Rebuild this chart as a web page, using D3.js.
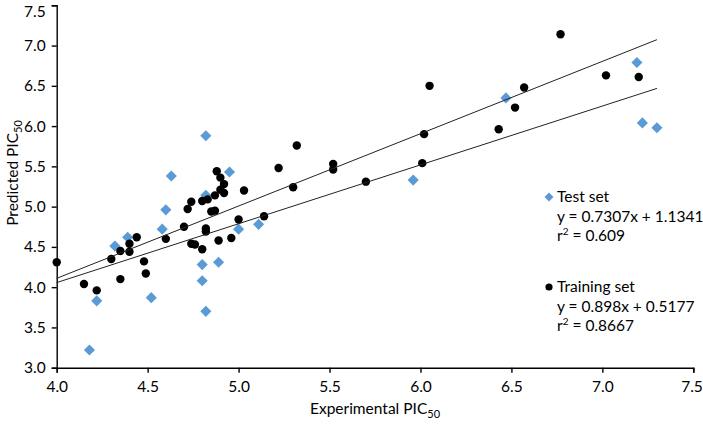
<!DOCTYPE html>
<html><head><meta charset="utf-8">
<script src="https://cdn.jsdelivr.net/npm/d3@7"></script>
<style>body{margin:0;background:#fff}svg{display:block;font-family:Lato,"Open Sans",sans-serif}</style>
</head><body><svg id="c" width="703" height="424"></svg>
<script>
const testX = [4.18,4.22,4.32,4.39,4.52,4.58,4.60,4.63,4.82,4.82,4.95,4.80,4.80,4.82,4.89,5.00,5.11,5.96,6.47,7.19,7.22,7.30];
const testY = [3.22,3.83,4.51,4.62,3.87,4.72,4.96,5.38,5.88,5.14,5.43,4.28,4.08,3.70,4.31,4.72,4.78,5.33,6.35,6.79,6.04,5.98];
const trainX = [4.00,4.15,4.22,4.30,4.35,4.35,4.40,4.40,4.44,4.48,4.49,4.60,4.70,4.72,4.74,4.74,4.76,4.80,4.80,4.82,4.82,4.83,4.85,4.87,4.87,4.88,4.90,4.92,4.92,4.90,4.89,4.96,5.00,5.03,5.14,5.22,5.30,5.32,5.52,5.52,5.70,6.01,6.02,6.05,6.43,6.52,6.57,6.77,7.02,7.20];
const trainY = [4.31,4.04,3.96,4.35,4.10,4.45,4.54,4.44,4.62,4.32,4.17,4.60,4.75,4.97,5.06,4.54,4.53,4.47,5.07,4.73,4.69,5.09,4.94,4.95,5.14,5.44,5.36,5.28,5.17,5.21,4.58,4.61,4.84,5.20,4.88,5.48,5.24,5.76,5.53,5.46,5.31,5.54,5.90,6.50,5.96,6.23,6.48,7.14,6.63,6.61];
const xTicks = [4.0,4.5,5.0,5.5,6.0,6.5,7.0,7.5];
const yTicks = [3.0,3.5,4.0,4.5,5.0,5.5,6.0,6.5,7.0,7.5];
const fits = [
  {name:"Test set", slope:0.7307, intercept:1.1341, eq:"y = 0.7307x + 1.1341", r2:"0.609"},
  {name:"Training set", slope:0.898, intercept:0.5177, eq:"y = 0.898x + 0.5177", r2:"0.8667"}
];
const fitRange = [4.0, 7.3];

const svg = d3.select("#c");
const x = d3.scaleLinear().domain([4,7.5]).range([56.7,693.3]);
const y = d3.scaleLinear().domain([3,7.5]).range([367.7,5.3]);
const blue = "#5B9BD5";
const FS = 15.5;

// axes
const xa = svg.append("g").attr("transform","translate(0,367.7)")
  .call(d3.axisBottom(x).tickValues(xTicks).tickFormat(d3.format(".1f")).tickSizeOuter(0).tickSize(5).tickPadding(6));
const ya = svg.append("g").attr("transform","translate(56.7,0)")
  .call(d3.axisLeft(y).tickValues(yTicks).tickFormat(d3.format(".1f")).tickSizeOuter(0).tickSize(5).tickPadding(6));
[xa,ya].forEach(a=>{
  a.selectAll("path,line").attr("stroke","#000").attr("stroke-width",1.4);
  a.selectAll("text").attr("font-size",FS).attr("fill","#000").attr("font-family","Lato");
});
xa.selectAll("text").attr("dy","0.85em");
// keep edge labels inside the frame
xa.selectAll(".tick").filter(d=>d===7.5).select("text").attr("text-anchor","end").attr("x",9);
ya.selectAll(".tick").filter(d=>d===7.5).select("text").attr("dy","0.8em").attr("y",-1);

// test diamonds (square rotated 45°)
const diamond = d3.symbol().type(d3.symbolSquare).size(62);
svg.append("g").selectAll("path").data(testX.map((v,i)=>[v,testY[i]])).join("path")
  .attr("d",diamond).attr("fill",blue)
  .attr("transform",d=>`translate(${x(d[0])},${y(d[1])}) rotate(45)`);
// training dots
svg.append("g").selectAll("circle").data(trainX.map((v,i)=>[v,trainY[i]])).join("circle")
  .attr("cx",d=>x(d[0])).attr("cy",d=>y(d[1])).attr("r",4.2).attr("fill","#000");

// trend lines
fits.forEach(f=>{
  svg.append("line")
    .attr("x1",x(fitRange[0])).attr("y1",y(f.slope*fitRange[0]+f.intercept))
    .attr("x2",x(fitRange[1])).attr("y2",y(f.slope*fitRange[1]+f.intercept))
    .attr("stroke","#222").attr("stroke-width",1);
});

// legend
const lg = svg.append("g").attr("font-size",FS).attr("fill","#000");
const rows = [202, 292];
fits.forEach((f,i)=>{
  const b = rows[i];
  if(i===0) lg.append("path").attr("d",d3.symbol().type(d3.symbolSquare).size(40)).attr("fill",blue).attr("transform",`translate(549,${b-5}) rotate(45)`);
  else lg.append("circle").attr("cx",549).attr("cy",b-5).attr("r",3.6).attr("fill","#000");
  lg.append("text").attr("x",557).attr("y",b).text(f.name);
  lg.append("text").attr("x",557).attr("y",b+20).text(f.eq);
  const t = lg.append("text").attr("x",557).attr("y",b+39);
  t.append("tspan").text("r");
  t.append("tspan").attr("font-size",10).attr("dy",-6).text("2");
  t.append("tspan").attr("dy",6).text(" = "+f.r2);
});

// axis titles
const xt = svg.append("text").attr("x",375).attr("y",414).attr("text-anchor","middle").attr("font-size",FS);
xt.append("tspan").text("Experimental PIC");
xt.append("tspan").attr("font-size",11).attr("dy",4).text("50");
const yt = svg.append("text").attr("transform","translate(18,173) rotate(-90)").attr("text-anchor","middle").attr("font-size",FS);
yt.append("tspan").text("Predicted PIC");
yt.append("tspan").attr("font-size",11).attr("dy",4).text("50");
</script></body></html>
